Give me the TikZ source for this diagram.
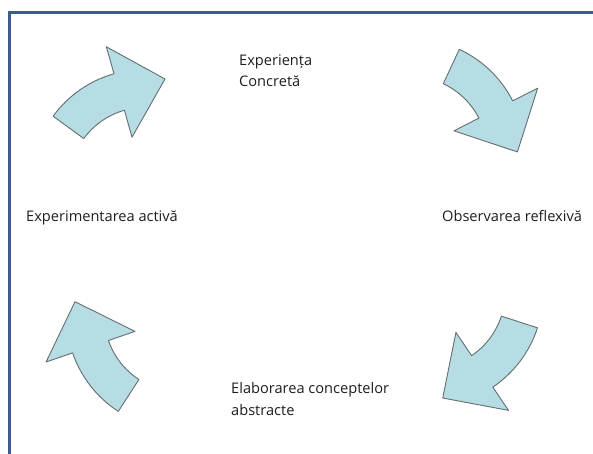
\documentclass[tikz,border=0pt]{standalone}
\usepackage{fontspec}
\setmainfont{Open Sans}
\definecolor{arrowfill}{RGB}{182,221,228}
\definecolor{arrowline}{RGB}{98,110,112}
\definecolor{framecol}{RGB}{60,90,150}
\definecolor{labeltext}{RGB}{30,30,30}
\begin{document}
\begin{tikzpicture}[x=1pt,y=-1pt,
  cyclearrow/.style={fill=arrowfill,draw=arrowline,line width=0.9pt,line join=round},
  frameline/.style={draw=framecol,line width=3pt},
  lbl/.style={anchor=base west,inner sep=0pt,align=left,text=labeltext,
    font=\fontsize{14.6}{21.5}\selectfont},
  % curved block arrow: tip along +x, body bends round a centre below it
  looparrow/.pic={
    \path[cyclearrow] (-70.2,5.2) arc[start angle=-128,end angle=-90,radius=114]
      -- (0,-47) -- (47.6,0) -- (0,47) -- (0,19)
      arc[start angle=-90,end angle=-128,radius=76] -- cycle;
  }]
\useasboundingbox (0,0) rectangle (593,454);
\fill[white] (0,0) rectangle (593,454);

% frame
\draw[frameline,line join=miter] (9.5,454) -- (9.5,12.5) -- (593,12.5);

% the four arrows of the cycle
\pic[rotate=15.85] at (119.2,92) {looparrow};
\pic[rotate=-63] at (495.8,109.5) {looparrow};
\pic[rotate=-146] at (482.2,371.4) {looparrow};
\pic[rotate=109] at (90.5,346.7) {looparrow};

% stage labels (base anchor sits on the last line)
\node[lbl] (ce) at (239,87) {Experiența\\Concretă};
\node[lbl] (or) at (442,221) {Observarea reflexivă};
\node[lbl] (ec) at (231,415) {Elaborarea conceptelor\\abstracte};
\node[lbl] (ea) at (26,221) {Experimentarea activă};
\end{tikzpicture}
\end{document}
